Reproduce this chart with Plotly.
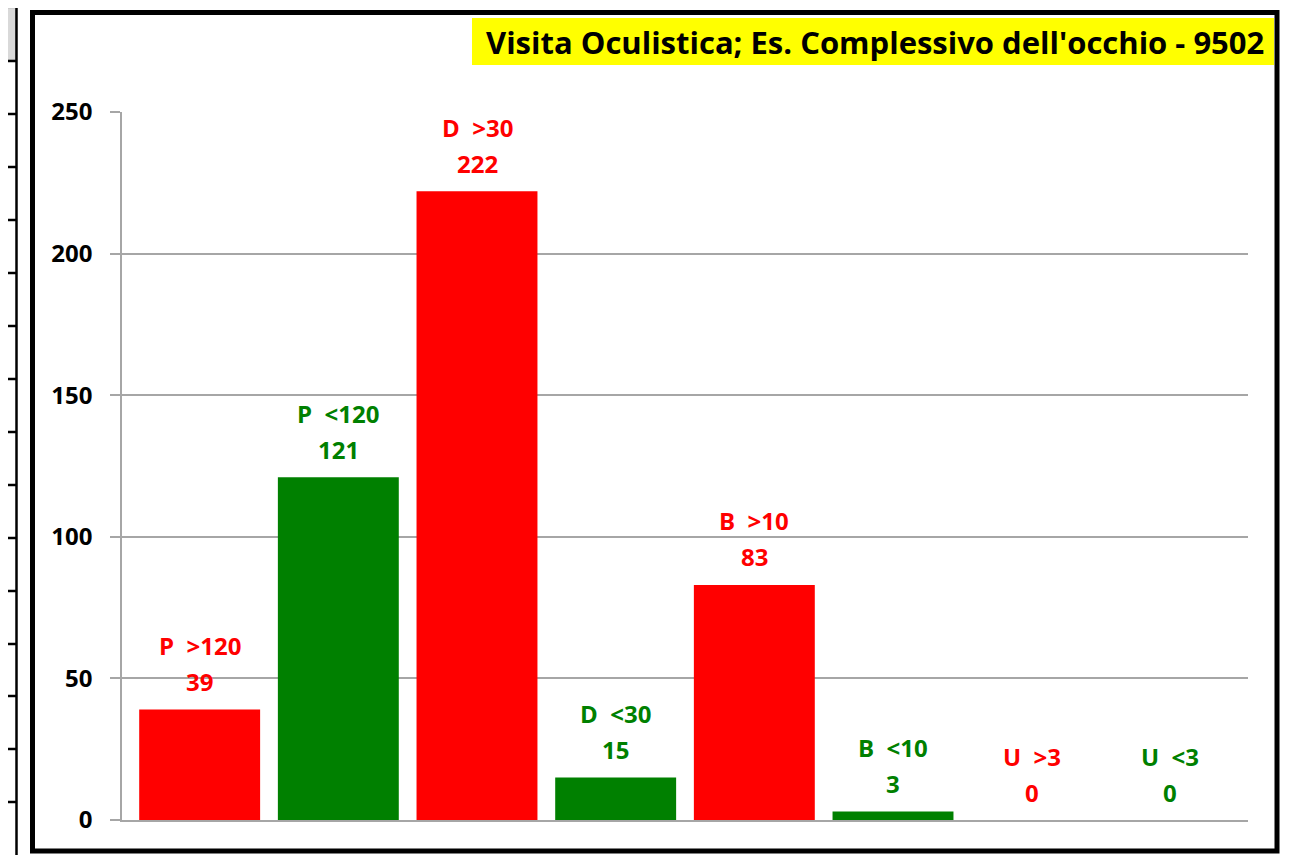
import plotly.graph_objects as go

# ---- data ----
categories = ["P >120", "P <120", "D >30", "D <30", "B >10", "B <10", "U >3", "U <3"]
label_names = ["P  >120", "P  <120", "D  >30", "D  <30", "B  >10", "B  <10", "U  >3", "U  <3"]
values = [39, 121, 222, 15, 83, 3, 0, 0]
bar_colors = ["#FF0000", "#008000", "#FF0000", "#008000", "#FF0000", "#008000", "#FF0000", "#008000"]
title_text = "Visita Oculistica; Es. Complessivo dell'occhio - 9502"
y_ticks = [0, 50, 100, 150, 200, 250]

# page body has an 8px margin: figure is placed at (8, 8) in the window
OFF = 8
W, H = 1295 - OFF, 855 - OFF
# plot area in window pixels: x 122..1248, y 112..820
PL, PR, PT, PB = 122, 1248, 112, 820
ML, MT = PL - OFF, PT - OFF
MR, MB = W - (PR - OFF), H - (PB - OFF)
PW = PR - PL
PH = PB - PT

def px(x):
    return (x - PL) / PW

def py(y):
    return (PB - y) / PH

FONT = "Open Sans"

fig = go.Figure()
fig.add_trace(go.Bar(
    x=categories, y=values,
    marker=dict(color=bar_colors, line=dict(width=0)),
    hoverinfo="x+y",
))

annotations = []
for c, n, v, col in zip(categories, label_names, values, bar_colors):
    annotations.append(dict(x=c, y=v, xref="x", yref="y", text=f"<b>{v}</b>",
                            showarrow=False, yshift=28, yanchor="middle",
                            font=dict(family=FONT, size=24, color=col)))
    annotations.append(dict(x=c, y=v, xref="x", yref="y", text=f"<b>{n}</b>",
                            showarrow=False, yshift=64, yanchor="middle",
                            font=dict(family=FONT, size=24, color=col)))

# title in yellow box
annotations.append(dict(x=px(875), y=py(42), xref="paper", yref="paper",
                        text=f"<b>{title_text}</b>", showarrow=False,
                        xanchor="center", yanchor="middle",
                        font=dict(family=FONT, size=31, color="black")))

shapes = []
# yellow title background
shapes.append(dict(type="rect", xref="paper", yref="paper",
                   x0=px(472), x1=px(1274), y0=py(65), y1=py(18),
                   fillcolor="#FFFF00", line=dict(width=0), layer="below"))
# chart frame
shapes.append(dict(type="rect", xref="paper", yref="paper",
                   x0=px(32.5), x1=px(1277), y0=py(851), y1=py(12.5),
                   line=dict(color="black", width=5), fillcolor="rgba(0,0,0,0)"))
# spreadsheet remnants on the left
shapes.append(dict(type="rect", xref="paper", yref="paper",
                   x0=px(0), x1=px(15.5), y0=py(60), y1=py(8),
                   fillcolor="#D9D9D9", line=dict(color="#BFBFBF", width=1)))
shapes.append(dict(type="line", xref="paper", yref="paper",
                   x0=px(16.5), x1=px(16.5), y0=py(8), y1=py(860),
                   line=dict(color="black", width=2.5)))
for yy in [61, 114, 167, 220, 273, 326, 379, 432, 485, 538, 591, 644, 696, 749, 802]:
    shapes.append(dict(type="line", xref="paper", yref="paper",
                       x0=px(0), x1=px(16.5), y0=py(yy), y1=py(yy),
                       line=dict(color="black", width=2.5)))

fig.update_layout(
    width=W, height=H,
    margin=dict(l=ML, r=MR, t=MT, b=MB, pad=0),
    paper_bgcolor="white", plot_bgcolor="white",
    showlegend=False,
    bargap=0.128,
    annotations=annotations,
    shapes=shapes,
    font=dict(family=FONT),
)
fig.update_xaxes(
    type="category", range=[-0.56, 7.56],
    showticklabels=False, ticks="", showgrid=False,
    showline=True, linecolor="#A6A6A6", linewidth=1.5, zeroline=False,
)
fig.update_yaxes(
    range=[0, 250], tickvals=y_ticks,
    showgrid=True, gridcolor="#A6A6A6", gridwidth=1.5,
    showline=True, linecolor="#A6A6A6", linewidth=1.5,
    ticks="outside", ticklen=10, tickcolor="#A6A6A6", tickwidth=1.5,
    ticklabelstandoff=13,
    tickfont=dict(family=FONT, size=24, color="black", weight="bold"),
    zeroline=False,
)

fig.write_html("out.html")
